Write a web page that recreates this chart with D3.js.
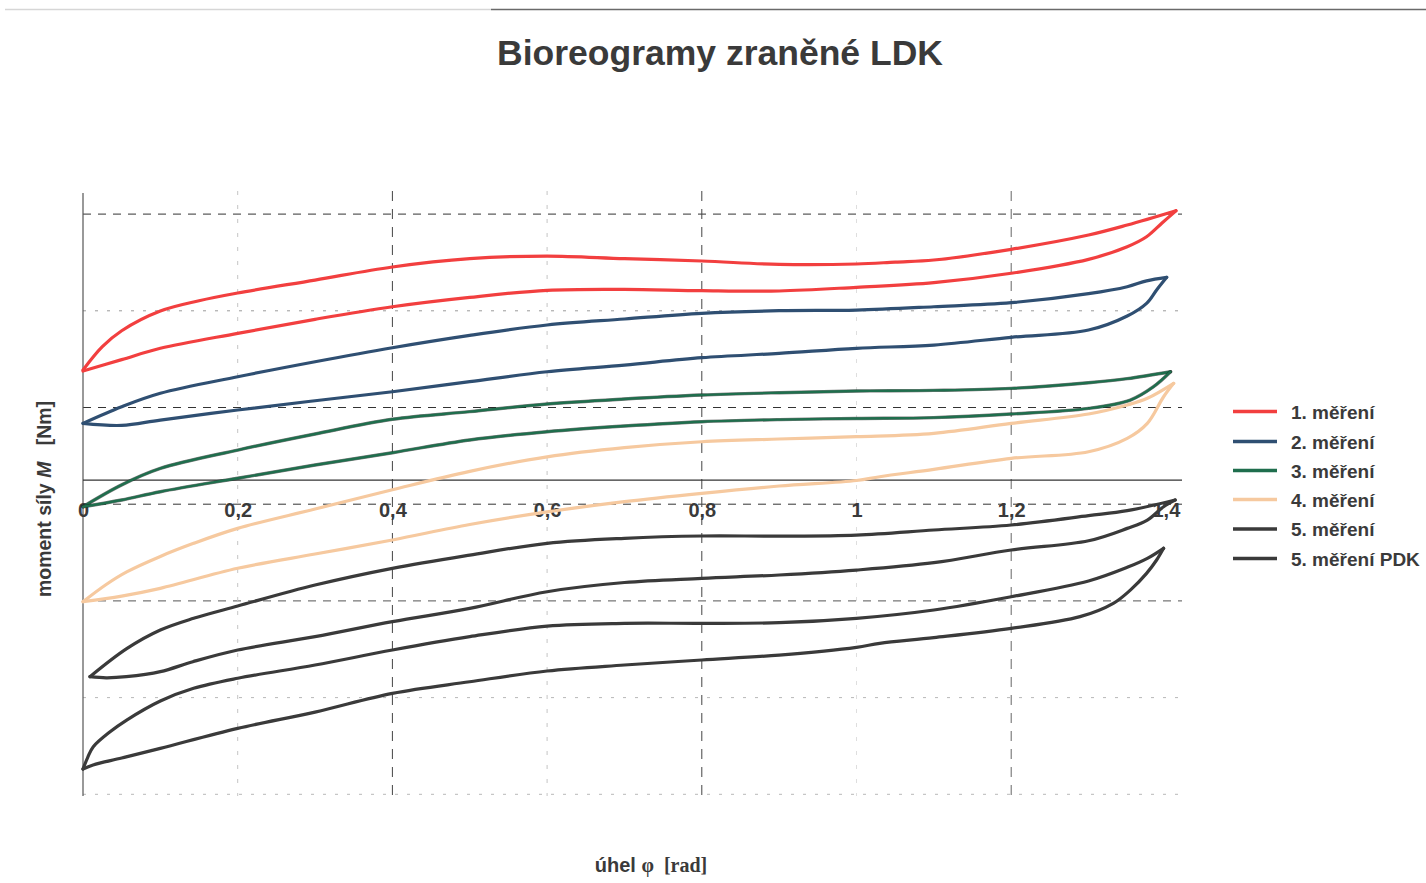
<!DOCTYPE html>
<html><head><meta charset="utf-8">
<script src="https://cdn.jsdelivr.net/npm/d3@7"></script>
<style>body{margin:0;background:#fff}svg{display:block}</style>
</head><body>
<svg id="chart" width="1426" height="883"></svg>
<script>
// ---------- data ----------
const xTicks = [0, 0.2, 0.4, 0.6, 0.8, 1.0, 1.2, 1.4];
const xTickLabels = ["0", "0,2", "0,4", "0,6", "0,8", "1", "1,2", "1,4"];
const yGridDark = [2.75, 0.75, -0.25, -1.25];
const yGridLight = [1.75, -2.25, -3.25];
const xGridDark = [0.4, 0.8, 1.2];
const xGridLight = [0.2, 0.6, 1.0];
const seriesNames = ["1. měření", "2. měření", "3. měření", "4. měření", "5. měření", "5. měření PDK"];

// each loop: upper branch (0 -> max angle) then return branch (max angle -> 0)
const m1Up = [[0,1.138],[0.025,1.379],[0.05,1.544],[0.1,1.748],[0.15,1.854],[0.2,1.934],[0.3,2.068],[0.4,2.203],[0.5,2.289],[0.6,2.316],[0.7,2.289],[0.8,2.265],[0.9,2.23],[1.0,2.234],[1.05,2.254],[1.1,2.275],[1.2,2.386],[1.3,2.534],[1.35,2.637],[1.413,2.785]];
const m1Down = [[1.395,2.658],[1.375,2.516],[1.35,2.413],[1.3,2.282],[1.2,2.138],[1.1,2.041],[1.0,1.993],[0.9,1.955],[0.8,1.958],[0.7,1.972],[0.6,1.962],[0.5,1.889],[0.4,1.792],[0.3,1.662],[0.2,1.517],[0.1,1.362],[0.05,1.245],[0,1.127]];

const m2Up = [[0,0.586],[0.05,0.758],[0.1,0.897],[0.2,1.068],[0.3,1.223],[0.4,1.368],[0.5,1.496],[0.6,1.603],[0.7,1.665],[0.8,1.724],[0.9,1.751],[1.0,1.758],[1.1,1.792],[1.2,1.834],[1.3,1.927],[1.35,1.999],[1.375,2.06],[1.401,2.096]];
const m2Down = [[1.388,1.965],[1.375,1.827],[1.35,1.696],[1.3,1.551],[1.2,1.476],[1.1,1.396],[1.0,1.362],[0.9,1.31],[0.8,1.265],[0.7,1.189],[0.6,1.12],[0.5,1.017],[0.4,0.913],[0.3,0.82],[0.2,0.724],[0.1,0.62],[0.05,0.565],[0,0.586]];

const m3Up = [[0,-0.276],[0.05,-0.05],[0.1,0.12],[0.2,0.31],[0.3,0.476],[0.4,0.628],[0.5,0.707],[0.6,0.786],[0.7,0.838],[0.8,0.879],[0.9,0.903],[1.0,0.92],[1.1,0.927],[1.2,0.948],[1.3,1.006],[1.35,1.048],[1.406,1.12]];
const m3Down = [[1.384,0.965],[1.354,0.827],[1.3,0.741],[1.2,0.683],[1.1,0.645],[1.0,0.636],[0.9,0.625],[0.8,0.603],[0.7,0.558],[0.6,0.499],[0.5,0.414],[0.4,0.282],[0.3,0.155],[0.2,0.018],[0.1,-0.121],[0.05,-0.207],[0,-0.276]];

const m4Up = [[0,-1.258],[0.03,-1.08],[0.0565,-0.95],[0.1,-0.79],[0.143,-0.655],[0.2,-0.5],[0.3,-0.3],[0.4,-0.1],[0.5,0.09],[0.6,0.24],[0.7,0.335],[0.8,0.396],[0.9,0.424],[1.0,0.448],[1.1,0.483],[1.2,0.586],[1.3,0.683],[1.35,0.776],[1.376,0.845],[1.41,1.0]];
const m4Down = [[1.397,0.861],[1.376,0.586],[1.35,0.431],[1.3,0.293],[1.2,0.224],[1.1,0.11],[1.03,0.034],[1.0,-0.005],[0.9,-0.062],[0.8,-0.138],[0.7,-0.224],[0.6,-0.33],[0.5,-0.46],[0.4,-0.62],[0.3,-0.765],[0.2,-0.913],[0.1,-1.12],[0.05,-1.2],[0,-1.258]];

const m5Up = [[0.009,-2.034],[0.0565,-1.744],[0.1,-1.551],[0.143,-1.43],[0.2,-1.303],[0.3,-1.086],[0.4,-0.913],[0.5,-0.776],[0.6,-0.655],[0.7,-0.603],[0.8,-0.579],[0.9,-0.58],[1.0,-0.569],[1.1,-0.517],[1.2,-0.465],[1.3,-0.369],[1.35,-0.317],[1.412,-0.207]];
const m5Down = [[1.397,-0.276],[1.376,-0.414],[1.35,-0.5],[1.3,-0.628],[1.2,-0.724],[1.1,-0.855],[1.0,-0.931],[0.9,-0.982],[0.8,-1.017],[0.7,-1.06],[0.6,-1.155],[0.5,-1.327],[0.4,-1.465],[0.3,-1.62],[0.2,-1.758],[0.142,-1.879],[0.1,-1.982],[0.056,-2.034],[0.03,-2.045],[0.009,-2.034]];

const pdkUp = [[0,-2.989],[0.006,-2.87],[0.0133,-2.758],[0.035,-2.603],[0.0565,-2.482],[0.1,-2.285],[0.143,-2.154],[0.2,-2.05],[0.3,-1.913],[0.4,-1.758],[0.5,-1.62],[0.6,-1.51],[0.7,-1.482],[0.8,-1.482],[0.9,-1.475],[1.0,-1.43],[1.1,-1.344],[1.2,-1.207],[1.3,-1.044],[1.35,-0.903],[1.376,-0.81],[1.397,-0.706]];
const pdkDown = [[1.388,-0.827],[1.375,-0.965],[1.354,-1.138],[1.332,-1.275],[1.289,-1.413],[1.2,-1.534],[1.1,-1.63],[1.03,-1.689],[1.0,-1.73],[0.9,-1.81],[0.8,-1.861],[0.7,-1.913],[0.6,-1.975],[0.5,-2.086],[0.4,-2.206],[0.3,-2.4],[0.2,-2.568],[0.1,-2.775],[0.05,-2.875],[0.013,-2.947],[0,-2.989]];

// ---------- styles ----------
const colors = ["#f23f3f", "#2f4f72", "#1f6e4d", "#f6c99f", "#3a3a3a", "#3a3a3a"];
const loops = [[m4Up,m4Down],[m1Up,m1Down],[m2Up,m2Down],[m3Up,m3Down],[m5Up,m5Down],[pdkUp,pdkDown]];
const loopColorIdx = [3,0,1,2,4,5];

const svg = d3.select("#chart");
const x = d3.scaleLinear().domain([0, 1.4]).range([83, 1165.9]);
const y = d3.scaleLinear().domain([-3.25, 2.75]).range([794.3, 214.1]);
const X0 = 83, X1 = 1182, Y0 = 191, Y1 = 796;
const sans = "'Liberation Sans', Arial, Helvetica, sans-serif";

svg.append("rect").attr("width",1426).attr("height",883).attr("fill","#fff");

// scan-like top rule
svg.append("line").attr("x1",5).attr("x2",491).attr("y1",9.5).attr("y2",9.5).attr("stroke","#d6d6d6").attr("stroke-width",1.5);
svg.append("line").attr("x1",491).attr("x2",1426).attr("y1",9.5).attr("y2",9.5).attr("stroke","#6a6a6a").attr("stroke-width",1.5);

// grid
const g = svg.append("g");
g.selectAll(".hd").data(yGridDark).join("line")
  .attr("x1",X0).attr("x2",X1).attr("y1",d=>y(d)).attr("y2",d=>y(d))
  .attr("stroke",(d,i)=> i===3 ? "#555" : "#333").attr("stroke-width",1).attr("stroke-dasharray","8,7");
g.selectAll(".hl").data(yGridLight).join("line")
  .attr("x1",X0).attr("x2",X1).attr("y1",d=>y(d)).attr("y2",d=>y(d))
  .attr("stroke",(d,i)=> i===0 ? "#9a9a9a" : "#b8b8b8").attr("stroke-width",1).attr("stroke-dasharray","3,9");
g.selectAll(".vd").data(xGridDark).join("line")
  .attr("x1",d=>x(d)).attr("x2",d=>x(d)).attr("y1",Y0).attr("y2",Y1)
  .attr("stroke",(d,i)=> i===2 ? "#666" : "#444").attr("stroke-width",1).attr("stroke-dasharray","10,8");
g.selectAll(".vl").data(xGridLight).join("line")
  .attr("x1",d=>x(d)).attr("x2",d=>x(d)).attr("y1",Y0).attr("y2",Y1)
  .attr("stroke",(d,i)=> i===2 ? "#dedede" : "#c4c4c4").attr("stroke-width",1).attr("stroke-dasharray","4,10");

// axes lines
svg.append("line").attr("x1",X0).attr("x2",X0).attr("y1",Y0+2).attr("y2",Y1).attr("stroke","#555").attr("stroke-width",1.2);
svg.append("line").attr("x1",X0).attr("x2",X1).attr("y1",y(0)).attr("y2",y(0)).attr("stroke","#333").attr("stroke-width",1.3);

// x tick labels
const xAxis = d3.axisBottom(x).tickValues(xTicks).tickSize(0).tickPadding(0)
  .tickFormat((d,i)=>xTickLabels[i]);
const ax = svg.append("g").attr("transform","translate(0,503)").call(xAxis);
ax.select(".domain").remove();
ax.selectAll("text").attr("font-family",sans)
  .attr("font-size",20).attr("font-weight","bold").attr("fill","#3a3a3a");

// curves: each branch drawn as a smooth spline, branches meeting in sharp tips
const line = d3.line().x(d=>x(d[0])).y(d=>y(d[1])).curve(d3.curveCatmullRom.alpha(0.5));
loops.forEach((lp,i)=>{
  const up = lp[0];
  const down = [up[up.length-1]].concat(lp[1]);
  const ci = loopColorIdx[i];
  [up, down].forEach(br=>{
    if (ci === 2) {
      svg.append("path").attr("d",line(br)).attr("fill","none").attr("stroke","#111")
        .attr("stroke-width",3.4).attr("stroke-opacity",0.55).attr("stroke-linecap","round");
      svg.append("path").attr("d",line(br)).attr("fill","none").attr("stroke",colors[ci])
        .attr("stroke-width",2.4).attr("stroke-linecap","round");
    } else {
      svg.append("path").attr("d",line(br)).attr("fill","none").attr("stroke",colors[ci])
        .attr("stroke-width",3.2).attr("stroke-linecap","round");
    }
  });
});

// legend
const legY = [411.5, 441.5, 470.5, 499.5, 529, 558.5];
const leg = svg.append("g");
seriesNames.forEach((n,i)=>{
  leg.append("line").attr("x1",1233).attr("x2",1277).attr("y1",legY[i]).attr("y2",legY[i])
    .attr("stroke", colors[i]).attr("stroke-width",3.6);
  leg.append("text").attr("x",1291).attr("y",legY[i]+7).text(n)
    .attr("font-family",sans).attr("font-size",19)
    .attr("font-weight","bold").attr("fill","#3a3a3a");
});

// title
svg.append("text").attr("x",720).attr("y",65).attr("text-anchor","middle")
  .attr("font-family",sans).attr("font-size",35.5)
  .attr("font-weight","bold").attr("fill","#3a3a3a").text("Bioreogramy zraněné LDK");

// y label
const yl = svg.append("text").attr("transform","translate(51,499) rotate(-90)")
  .attr("text-anchor","middle").attr("font-family",sans)
  .attr("font-size",19.5).attr("font-weight","bold").attr("fill","#3a3a3a");
yl.append("tspan").text("moment síly ");
yl.append("tspan").attr("font-style","italic").text("M");
yl.append("tspan").text("\u00a0\u00a0\u00a0[Nm]");

// x label
const xl = svg.append("text").attr("x",651).attr("y",872).attr("text-anchor","middle")
  .attr("font-size",20).attr("font-weight","bold").attr("fill","#3a3a3a");
xl.append("tspan").attr("font-family",sans).text("úhel ");
xl.append("tspan").attr("font-family","'Liberation Serif', 'Times New Roman', serif").text("φ\u00a0\u00a0[rad]");
</script>
</body></html>
